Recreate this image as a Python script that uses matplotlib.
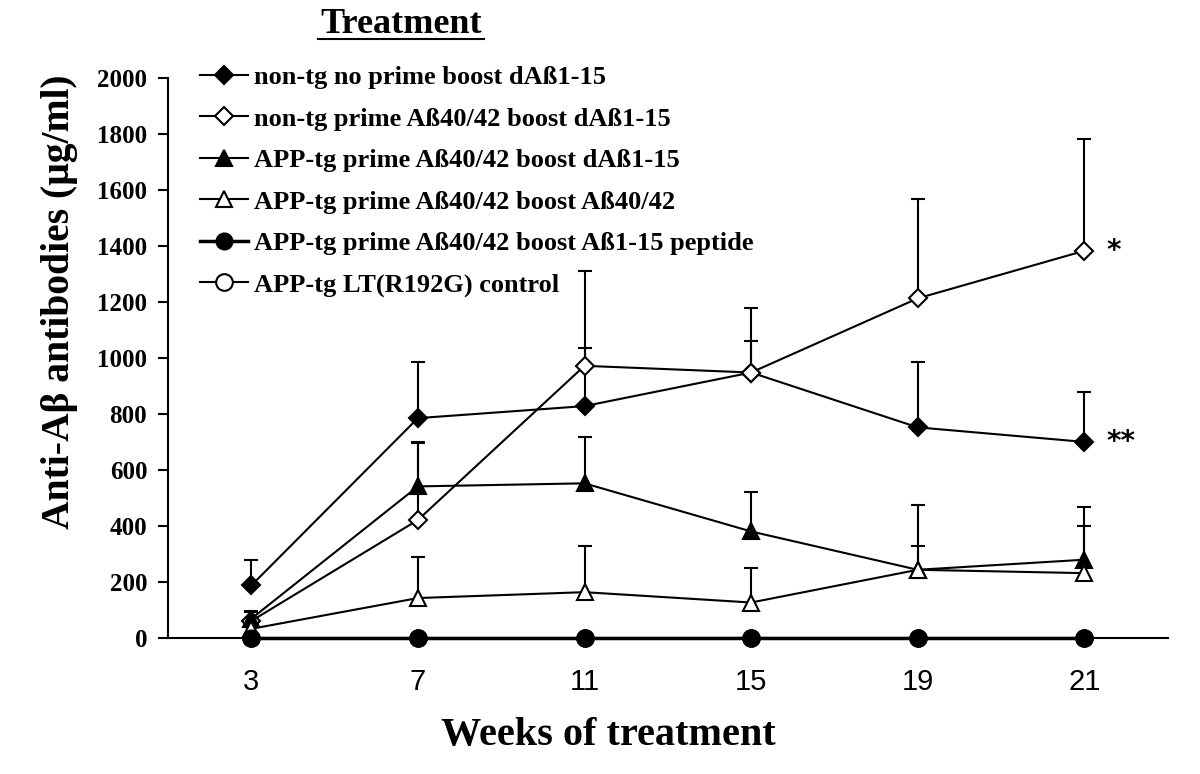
import matplotlib
matplotlib.use("Agg")
import matplotlib.pyplot as plt
from matplotlib.lines import Line2D

# Data
weeks = ["3", "7", "11", "15", "19", "21"]

labels = [
    "non-tg no prime boost dAß1-15",
    "non-tg prime Aß40/42 boost dAß1-15",
    "APP-tg prime Aß40/42 boost dAß1-15",
    "APP-tg prime Aß40/42 boost Aß40/42",
    "APP-tg prime Aß40/42 boost Aß1-15 peptide",
    "APP-tg LT(R192G) control",
]

nontg_noprime = [187, 785, 828, 948, 752, 700]
nontg_noprime_err = [90, 200, 208, 113, 233, 178]

nontg_prime = [60, 421, 972, 948, 1213, 1383]
nontg_prime_err = [33, 275, 338, 231, 355, 398]

apptg_dab = [68, 541, 552, 380, 243, 279]
apptg_dab_err = [28, 160, 167, 141, 232, 188]

apptg_ab4042 = [32, 142, 163, 126, 243, 231]
apptg_ab4042_err = [20, 146, 166, 125, 86, 168]

apptg_peptide = [0, 0, 0, 0, 0, 0]
apptg_control = [0, 0, 0, 0, 0, 0]

serif = "Liberation Serif"

fig = plt.figure(figsize=(12, 7.74), dpi=100)
ax = fig.add_axes([0.14, 0.176, 0.833, 0.723])
x = list(range(len(weeks)))

styles = [
    (nontg_noprime, nontg_noprime_err, "D", "black", 9),
    (nontg_prime, nontg_prime_err, "D", "white", 9),
    (apptg_dab, apptg_dab_err, "^", "black", 12),
    (apptg_ab4042, apptg_ab4042_err, "^", "white", 12),
]

# open-circle control sits at zero, under the filled circles
hc, = ax.plot(x, apptg_control, marker="o", ms=12, mfc="white", mec="black",
              mew=1.5, color="black", lw=1.5, zorder=3, clip_on=False)

handles = []
for vals, err, mk, fc, ms in styles:
    top = [v + e for v, e in zip(vals, err)]
    # upper error bars only
    ax.vlines(x, vals, top, color="black", lw=1.5, zorder=2)
    ax.plot(x, top, ls="none", marker="_", ms=10, mew=1.5, color="black", zorder=2)
    h, = ax.plot(x, vals, marker=mk, ms=ms, mfc=fc, mec="black", mew=1.5,
                 color="black", lw=1.5, zorder=4)
    handles.append(h)

hp, = ax.plot(x, apptg_peptide, marker="o", ms=12, mfc="black", mec="black",
              color="black", lw=2.5, zorder=5, clip_on=False)
handles += [hp, hc]

ax.set_xlim(-0.5, 5.5)
ax.set_ylim(0, 2000)
ax.set_yticks(range(0, 2001, 200))
ax.set_xticks(x)
ax.set_xticklabels(weeks, family="Liberation Sans", fontsize=21)
for t in ax.get_yticklabels():
    t.set_family(serif)
    t.set_fontweight("bold")
    t.set_fontsize(18)
ax.tick_params(axis="y", direction="out", length=7, width=1.5, pad=8)
ax.tick_params(axis="x", length=0, pad=22)
for s in ["top", "right"]:
    ax.spines[s].set_visible(False)
for s in ["left", "bottom"]:
    ax.spines[s].set_linewidth(1.5)

# significance marks
ax.text(5.13, nontg_prime[5], "*", fontsize=20, fontweight="bold", va="center", ha="left")
ax.text(5.13, nontg_noprime[5], "**", fontsize=20, fontweight="bold", va="center", ha="left")

ax.legend(handles, labels, loc="upper left", bbox_to_anchor=(0.167, 0.915),
          bbox_transform=fig.transFigure, frameon=False,
          prop={"family": serif, "weight": "bold", "size": 19},
          handlelength=1.8, handletextpad=0.25, labelspacing=0.68,
          borderpad=0, borderaxespad=0)

fig.text(0.05, 0.61, "Anti-Aβ antibodies (μg/ml)", rotation=90, ha="center", va="center",
         family=serif, fontweight="bold", fontsize=28.5)
fig.text(0.507, 0.05, "Weeks of treatment", ha="center", va="center",
         family=serif, fontweight="bold", fontsize=29)
fig.text(0.334, 0.957, "Treatment", ha="center", va="baseline",
         family=serif, fontweight="bold", fontsize=26)
fig.add_artist(Line2D([0.265, 0.403], [0.95, 0.95], color="black", lw=1.5,
                      transform=fig.transFigure))

fig.savefig("out.png", dpi=100)
